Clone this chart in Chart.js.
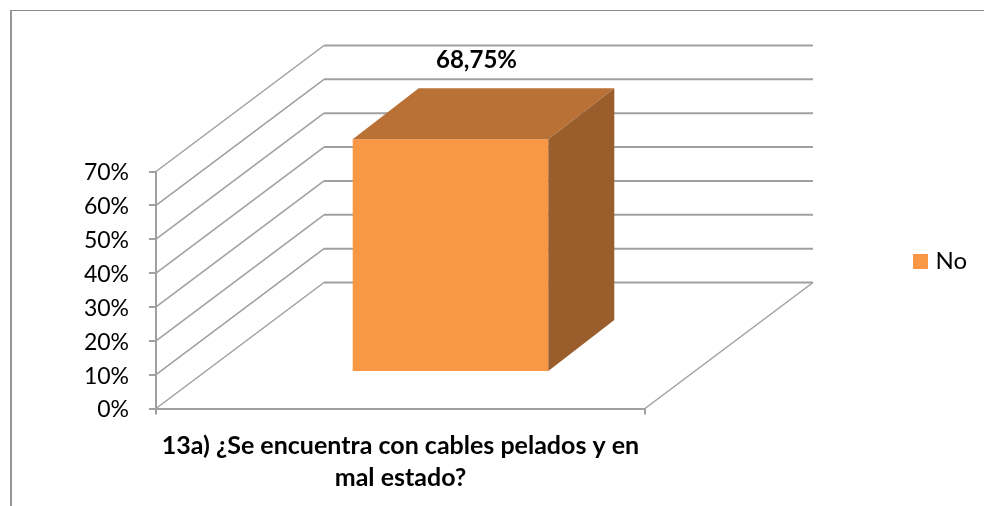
<!DOCTYPE html>
<html>
<head>
<meta charset="utf-8">
<style>
  html, body { margin: 0; background: #ffffff; overflow: hidden; }
  #frame { position: absolute; left: 10px; top: 10px; right: 0; bottom: 0; border-left: 2px solid #969696; border-top: 1px solid #8c8c8c; }
  canvas { position: absolute; left: 0; top: 0; }
</style>
<script src="https://cdn.jsdelivr.net/npm/chart.js@4"></script>
</head>
<body>
<div id="frame"></div>
<canvas id="chart" width="984" height="506"></canvas>
<script>
// datos del grafico
const categories = [["13a) ¿Se encuentra con cables pelados y en", "mal estado?"]];
const seriesName = "No";
const seriesValues = [68.75];
const axisMin = 0;
const axisMax = 70;
const axisStep = 10;

const FONT = "Lato, 'Open Sans', sans-serif";
const GRID = "#a0a0a0";
const BAR_COLOR = "#f99745";

// profundidad de la caja 3D y de la barra
const WALL_DX = 168, WALL_DY = 126;
const BAR_SHIFT_X = 50, BAR_SHIFT_Y = 36.5;
const BAR_DX = 66, BAR_DY = 51;

function line(ctx, x1, y1, x2, y2, width) {
  ctx.lineWidth = width;
  ctx.beginPath();
  ctx.moveTo(x1, y1);
  ctx.lineTo(x2, y2);
  ctx.stroke();
}

function poly(ctx, pts, color) {
  ctx.fillStyle = color;
  ctx.beginPath();
  pts.forEach((p, i) => (i ? ctx.lineTo(p[0], p[1]) : ctx.moveTo(p[0], p[1])));
  ctx.closePath();
  ctx.fill();
}

// cuadrito de la leyenda (asi el texto queda mas pegado)
function legendSwatch() {
  const c = document.createElement("canvas");
  c.width = 15;
  c.height = 15;
  const g = c.getContext("2d");
  g.fillStyle = BAR_COLOR;
  g.fillRect(0, 0, 15, 15);
  return c;
}

// paredes, piso y cara frontal desplazada hacia el fondo
const box3d = {
  id: "box3d",
  beforeDatasetsDraw(chart) {
    const { ctx, scales: { x, y } } = chart;
    ctx.save();
    ctx.strokeStyle = GRID;
    y.ticks.forEach((t) => {
      const py = y.getPixelForValue(t.value);
      line(ctx, x.left, py, x.left + WALL_DX, py - WALL_DY, 1.5);
      line(ctx, x.left + WALL_DX, py - WALL_DY, x.right + WALL_DX, py - WALL_DY, 2);
    });
    line(ctx, x.right, y.bottom, x.right + WALL_DX, y.bottom - WALL_DY, 1.5);
    ctx.restore();

    ctx.save();
    ctx.translate(BAR_SHIFT_X, -BAR_SHIFT_Y);
  },
  afterDatasetsDraw(chart) {
    const { ctx } = chart;
    ctx.restore();

    const bar = chart.getDatasetMeta(0).data[0];
    const left = bar.x - bar.width / 2 + BAR_SHIFT_X;
    const right = bar.x + bar.width / 2 + BAR_SHIFT_X;
    const top = bar.y - BAR_SHIFT_Y;
    const bottom = bar.base - BAR_SHIFT_Y;

    poly(ctx, [[left, top], [left + BAR_DX, top - BAR_DY], [right + BAR_DX, top - BAR_DY], [right, top]], "#ba7136");
    poly(ctx, [[right, top], [right + BAR_DX, top - BAR_DY], [right + BAR_DX, bottom - BAR_DY], [right, bottom]], "#9a5e2c");

    // etiqueta de dato
    ctx.save();
    ctx.font = "bold 24px " + FONT;
    ctx.fillStyle = "#000000";
    ctx.textAlign = "center";
    ctx.textBaseline = "middle";
    ctx.fillText(seriesValues[0].toFixed(2).replace(".", ",") + "%", bar.x + BAR_SHIFT_X + 26, top - 79);
    ctx.restore();
  },
  // la leyenda va a la derecha, a la altura del fondo
  afterLayout(chart) {
    const l = chart.legend;
    l.left = 913; l.right = 984;
    l.top = 244.5; l.bottom = 285;
  }
};

new Chart(document.getElementById("chart"), {
  type: "bar",
  data: {
    labels: categories,
    datasets: [{
      label: seriesName,
      data: seriesValues,
      backgroundColor: BAR_COLOR,
      borderWidth: 0,
      categoryPercentage: 1,
      barPercentage: 0.4
    }]
  },
  options: {
    responsive: false,
    animation: false,
    layout: { autoPadding: false, padding: { top: 171.5, right: 339, left: 0, bottom: 0 } },
    plugins: {
      tooltip: { enabled: false },
      legend: {
        position: "chartArea",
        align: "start",
        labels: {
          usePointStyle: true,
          pointStyle: legendSwatch(),
          pointStyleWidth: 6,
          boxHeight: 15,
          padding: 4.5,
          color: "#000000",
          font: { family: FONT, size: 24 }
        }
      }
    },
    scales: {
      x: {
        afterFit: (s) => { s.height = 97.5; },
        border: { color: GRID, width: 2 },
        grid: { drawOnChartArea: false, color: GRID, lineWidth: 2, tickLength: 6 },
        ticks: {
          color: "#000000",
          padding: 15,
          maxRotation: 0,
          font: { family: FONT, size: 25, weight: "bold", lineHeight: 1.3 }
        }
      },
      y: {
        min: axisMin,
        max: axisMax,
        afterFit: (s) => { s.width = 156; },
        border: { color: GRID, width: 2 },
        grid: { drawOnChartArea: false, color: GRID, lineWidth: 2, tickLength: 7 },
        ticks: {
          stepSize: axisStep,
          color: "#000000",
          padding: 20,
          labelOffset: 1.5,
          font: { family: FONT, size: 23 },
          callback: (v) => v + "%"
        }
      }
    }
  },
  plugins: [box3d]
});
</script>
</body>
</html>
